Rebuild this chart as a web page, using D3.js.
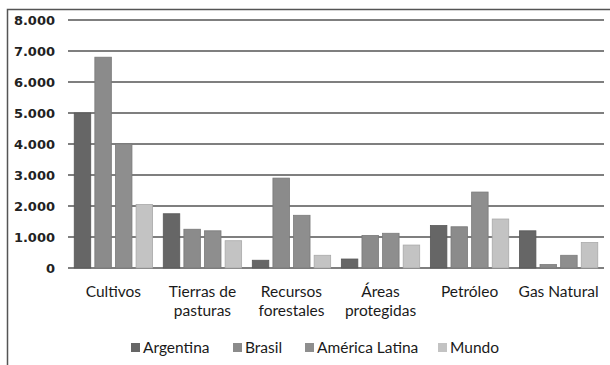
<!DOCTYPE html>
<html><head><meta charset="utf-8">
<script src="https://cdn.jsdelivr.net/npm/d3@7"></script>
<style>body{margin:0;background:#fff;} svg{display:block;}</style>
</head><body>
<script>
const categories = [["Cultivos"],["Tierras de","pasturas"],["Recursos","forestales"],["Áreas","protegidas"],["Petróleo"],["Gas Natural"]];
const seriesNames = ["Argentina","Brasil","América Latina","Mundo"];
const argentina = [5000,1750,250,290,1370,1200];
const brasil = [6800,1250,2900,1050,1330,110];
const americaLatina = [4000,1200,1700,1120,2450,410];
const mundo = [2050,880,410,740,1580,820];
const yTicks = [0,1000,2000,3000,4000,5000,6000,7000,8000];
const colors = ["#666666","#8b8b8b","#8e8e8e","#c3c3c3"];
const values = [argentina, brasil, americaLatina, mundo];

const W=610,H=365;
const svg=d3.select("body").append("svg").attr("width",W).attr("height",H);
svg.append("rect").attr("width",W).attr("height",H).attr("fill","#fff");
// frame
svg.append("path").attr("d","M7.5,"+H+"V9.5H"+W).attr("fill","none").attr("stroke","#555").attr("stroke-width",1.5);

const x0=d3.scaleBand().domain(d3.range(categories.length)).range([68,604]).paddingInner(0.12).paddingOuter(0.07);
const x1=d3.scaleBand().domain(d3.range(4)).range([0,x0.bandwidth()]).paddingInner(0.2);
const y=d3.scaleLinear().domain([0,8000]).range([268,20]);

const fmt=d=>d3.format(",")(d).replace(/,/g,".");
// grid
svg.append("g").selectAll("line").data(yTicks).join("line")
 .attr("x1",68).attr("x2",604).attr("y1",d=>y(d)).attr("y2",d=>y(d))
 .attr("stroke","#7f7f7f").attr("stroke-width",1.8);
const yAxis=d3.axisLeft(y).tickValues(yTicks).tickFormat(fmt).tickSize(0).tickPadding(0);
const ga=svg.append("g").attr("transform","translate(55,0)").call(yAxis);
ga.select(".domain").remove();
ga.selectAll("text").attr("font-family","DejaVu Sans").attr("font-weight","bold").attr("font-size",13).attr("fill","#222");

// bars
const groups=svg.append("g").selectAll("g").data(categories).join("g").attr("transform",(d,i)=>`translate(${x0(i)},0)`);
groups.selectAll("rect").data((d,i)=>values.map((v,s)=>({s,v:v[i]}))).join("rect")
 .attr("x",d=>x1(d.s)).attr("width",x1.bandwidth())
 .attr("y",d=>y(d.v)).attr("height",d=>y(0)-y(d.v))
 .attr("fill",d=>colors[d.s]).attr("stroke",d=>d3.color(colors[d.s]).darker(0.4)).attr("stroke-width",0.8);

// category labels (one text element per line)
const lines=[];
categories.forEach((c,i)=>c.forEach((t,j)=>lines.push({i,j,t})));
svg.append("g").selectAll("text").data(lines).join("text")
 .attr("x",d=>x0(d.i)+x0.bandwidth()/2).attr("y",d=>297+d.j*18.5)
 .attr("text-anchor","middle").attr("font-family","Lato").attr("font-size",15.5).attr("fill","#1a1a1a")
 .text(d=>d.t);

// legend
const legX=[131,233,305,438];
const lg=svg.append("g").selectAll("g").data(seriesNames).join("g").attr("transform",(d,i)=>`translate(${legX[i]},343)`);
lg.append("rect").attr("width",9).attr("height",9).attr("fill",(d,i)=>colors[i]);
lg.append("text").attr("x",12).attr("y",10).attr("font-family","Lato").attr("font-size",15.5).attr("fill","#1a1a1a").text(d=>d);
</script>
</body></html>
